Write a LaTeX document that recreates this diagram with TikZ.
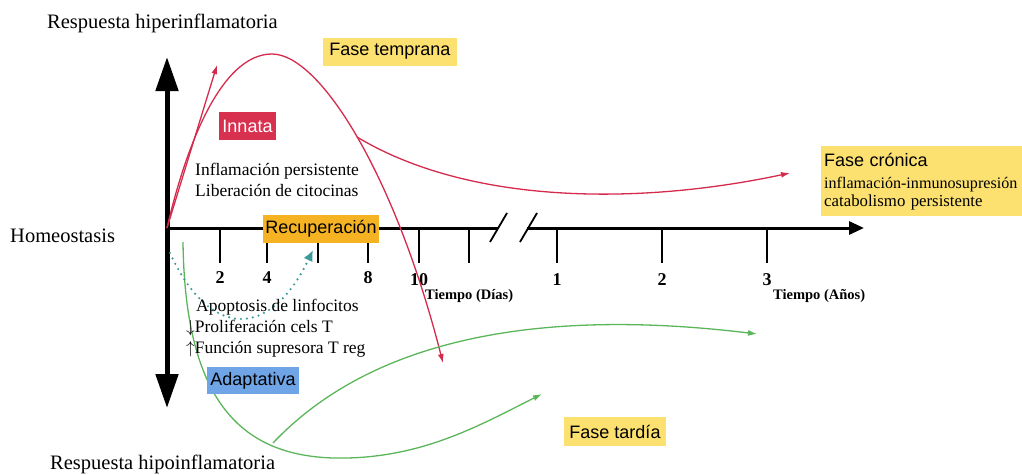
\documentclass[tikz,border=0pt]{standalone}
\usepackage{fontspec}
\setmainfont{Liberation Serif}
\newfontfamily\boxfont{Liberation Sans}
\usetikzlibrary{arrows.meta}
\definecolor{crim}{HTML}{D42A4C}
\definecolor{innatafill}{HTML}{D8304F}
\definecolor{yelbox}{HTML}{FCE170}
\definecolor{recbox}{HTML}{F5B324}
\definecolor{adabox}{HTML}{6FA4E6}
\definecolor{grn}{HTML}{5BB55A}
\definecolor{tealdot}{HTML}{3A9A9A}
\tikzset{
  box/.style={font=\boxfont\fontsize{18}{20}\selectfont, inner sep=0pt, minimum height=28},
  serif/.style={font=\fontsize{17.5}{20}\selectfont, inner sep=0pt, anchor=base west},
  bigserif/.style={font=\fontsize{20.5}{23}\selectfont, inner sep=0pt, anchor=base west},
  ticklbl/.style={font=\bfseries\fontsize{18}{20}\selectfont, inner sep=0pt, anchor=base},
  axlbl/.style={font=\bfseries\fontsize{14.5}{16}\selectfont, inner sep=0pt, anchor=base west},
  axisline/.style={line width=3pt},
  tickline/.style={line width=1.6pt},
  redline/.style={draw=crim, line width=1.3pt, -{Latex[length=9pt,width=6pt]}},
  greenline/.style={draw=grn, line width=1.3pt, -{Latex[length=9pt,width=6pt]}},
  tealdots/.style={draw=tealdot, line width=2.4pt, line cap=round, dash pattern=on 0pt off 6pt, -{Latex[length=11pt,width=10pt]}},
}
\begin{document}
\begin{tikzpicture}[x=1pt,y=-1pt]
\useasboundingbox (0,0) rectangle (1022,474);
\clip (0,0) rectangle (1022,474);
% coordinates
\coordinate (O) at (167,228);
\coordinate (vtop) at (167,57);
\coordinate (vbot) at (167,408);
\coordinate (hb1) at (498,228);
\coordinate (hb2) at (527,228);
\coordinate (hend) at (864,228);
% axes
\draw[line width=5pt, {Triangle[length=34pt,width=22pt]}-{Triangle[length=34pt,width=22pt]}] (vbot) -- (vtop);
\draw[axisline] (O) -- (hb1);
\draw[axisline, -{Triangle[length=15pt,width=13pt]}] (hb2) -- (hend);
\draw[line width=1.8pt] (490,242) -- (507,213);
\draw[line width=1.8pt] (520,242) -- (537,213);
\foreach \x in {220,267,318,368,419,469,557,662,767} \draw[tickline] (\x,228) -- (\x,263);
% tick labels
\node[ticklbl] (d2) at (220,283) {2};
\node[ticklbl] (d4) at (267,283) {4};
\node[ticklbl] (d8) at (368,283) {8};
\node[ticklbl] (d10) at (419,285) {10};
\node[ticklbl] (y1) at (557,285) {1};
\node[ticklbl] (y2) at (662,285) {2};
\node[ticklbl] (y3) at (767,285) {3};
\node[axlbl] (tdias) at (425,299) {Tiempo (Días)};
\node[axlbl] (tanos) at (773,299) {Tiempo (Años)};
% curves
\coordinate (rtip1) at (217,65);
\coordinate (rpeak) at (272,54);
\coordinate (rtip2) at (443,363);
\coordinate (rbr) at (357,137);
\coordinate (rtip3) at (790,173);
\draw[redline] (O) -- (rtip1);
\draw[redline] (O) .. controls (185,150) and (220,54) .. (rpeak) .. controls (320,54) and (395,175) .. (rtip2);
\draw[redline] (rbr) .. controls (470,205) and (640,205) .. (rtip3);
\coordinate (g1s) at (183,242);
\coordinate (g1m) at (333,458);
\coordinate (g1e) at (542,394);
\coordinate (g2s) at (273,443);
\coordinate (g2e) at (757,334);
\draw[greenline] (g1s) .. controls (185,400) and (240,455) .. (g1m) .. controls (420,460) and (480,425) .. (g1e);
\draw[greenline] (g2s) .. controls (380,330) and (560,310) .. (g2e);
\coordinate (ts) at (170,253);
\coordinate (te) at (313,250);
\draw[tealdots] (ts) .. controls (210,340) and (270,340) .. (te);
% texts
\node[bigserif] (hiper) at (47,28) {Respuesta hiperinflamatoria};
\node[bigserif] (homeo) at (10,242) {Homeostasis};
\node[bigserif] (hipo) at (50,469) {Respuesta hipoinflamatoria};
\node[serif] (infl) at (195,175) {Inflamación persistente};
\node[serif] (libe) at (195,196) {Liberación de citocinas};
\node[serif] (apop) at (196,311) {Apoptosis de linfocitos};
\node[serif] (prol) at (186,332) {$\downarrow$Proliferación cels T};
\node[serif] (func) at (186,353) {$\uparrow$Función supresora T reg};
% boxes
\node[box, fill=yelbox, minimum width=134] (temprana) at (390,51.5) {Fase temprana};
\node[box, fill=innatafill, text=white, minimum width=57] (innata) at (247.5,126) {Innata};
\node[box, fill=recbox, minimum width=116] (recup) at (321,229) {Recuperación};
\node[box, fill=adabox, minimum width=92, minimum height=27] (adapt) at (253,380.5) {Adaptativa};
\node[box, fill=yelbox, minimum width=102, minimum height=29] (tardia) at (615,431.5) {Fase tardía};
\node[fill=yelbox, anchor=north west, minimum height=70, text width=240, inner xsep=3, inner ysep=5, align=left,
      font=\fontsize{16.1}{18}\selectfont] (cronica) at (821,146)
  {{\boxfont\fontsize{18}{18}\selectfont Fase crónica}\\[4pt]inflamación-inmunosupresión\\ {\fontsize{16.8}{18}\selectfont catabolismo persistente}};
\end{tikzpicture}
\end{document}
